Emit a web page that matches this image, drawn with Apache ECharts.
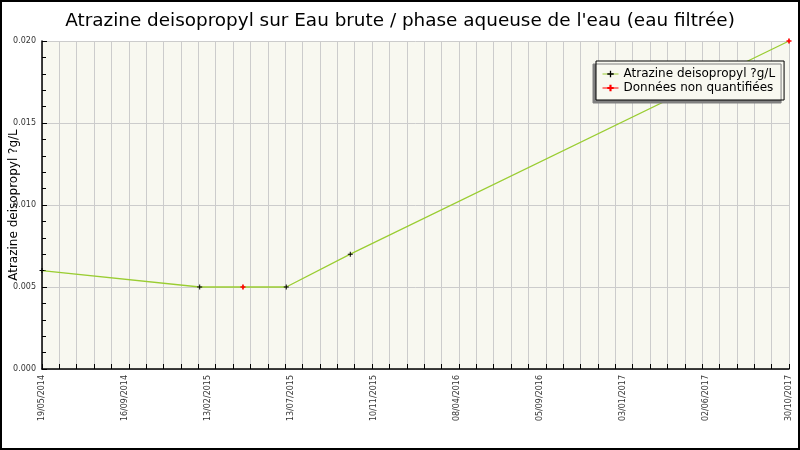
<!DOCTYPE html>
<html>
<head>
<meta charset="utf-8">
<script src="https://cdn.jsdelivr.net/npm/echarts@6/dist/echarts.min.js"></script>
<style>
html,body{margin:0;padding:0;background:#fff;}
#c{width:800px;height:450px;}
</style>
</head>
<body>
<div id="c"></div>
<script>
// ---- data ----
var titleText = "Atrazine deisopropyl sur Eau brute / phase aqueuse de l'eau (eau filtrée)";
var yAxisName = "Atrazine deisopropyl ?g/L";
var seriesMeasured = "Atrazine deisopropyl ?g/L";
var seriesNonQuant = "Données non quantifiées";
var measuredDates = ["19/05/2014", "09/02/2015", "05/07/2015", "21/10/2015"];
var measuredValues = [0.006, 0.005, 0.005, 0.007];
var nqDates = ["23/04/2015", "30/10/2017"];
var nqValues = [0.005, 0.020];
var axisStart = "19/05/2014";
var axisEnd = "30/10/2017";
var xTickLabels = ["19/05/2014", "16/09/2014", "13/02/2015", "13/07/2015", "10/11/2015",
                   "08/04/2016", "05/09/2016", "03/01/2017", "02/06/2017", "30/10/2017"];
var yTicks = [0, 0.005, 0.010, 0.015, 0.020];

// ---- helpers ----
function toDay(s) {
  var p = s.split("/");
  return Date.UTC(+p[2], +p[1] - 1, +p[0]) / 86400000;
}
var d0 = toDay(axisStart);
var span = toDay(axisEnd) - d0;
function dx(s) { return toDay(s) - d0; }

var plusPath = 'path://M2,0H3V2H5V3H3V5H2V3H0V2H2Z';
var plusBold = 'path://M1,0H2V1H3V2H2V3H1V2H0V1H1Z';

// all points in date order for the connecting line
var allPts = [];
measuredDates.forEach(function (d, i) { allPts.push({ x: dx(d), y: measuredValues[i], m: true }); });
nqDates.forEach(function (d, i) { allPts.push({ x: dx(d), y: nqValues[i], m: false }); });
allPts.sort(function (a, b) { return a.x - b.x; });
var mainData = allPts.map(function (p) {
  return p.m ? { value: [p.x, p.y] } : { value: [p.x, p.y], symbol: 'none' };
});
var nqData = nqDates.map(function (d, i) { return [dx(d), nqValues[i]]; });

var labelInterval = span / (xTickLabels.length - 1);
var minorInterval = span / 43;

var chart = echarts.init(document.getElementById('c'), null, { renderer: 'canvas' });
chart.setOption({
  animation: false,
  backgroundColor: '#ffffff',
  textStyle: { fontFamily: 'DejaVu Sans' },
  title: {
    text: titleText,
    left: 'center',
    top: 7,
    textStyle: { fontFamily: 'DejaVu Sans', fontSize: 18.4, fontWeight: 'normal', color: '#000' }
  },
  graphic: [{
    type: 'rect', silent: true, z: 100,
    shape: { x: 1, y: 1, width: 798, height: 448 },
    style: { fill: 'none', stroke: '#000', lineWidth: 2 }
  }],
  grid: {
    left: 42, right: 11, top: 41, bottom: 81,
    containLabel: false, outerBoundsMode: 'none',
    show: true, backgroundColor: '#f8f8f0', borderWidth: 0
  },
  legend: {
    orient: 'vertical',
    left: 596, top: 61,
    padding: [7, 9, 6, 6],
    itemGap: 2,
    itemWidth: 16, itemHeight: 8,
    backgroundColor: '#f8f8f0',
    borderColor: '#000', borderWidth: 1,
    shadowColor: '#808080', shadowBlur: 0, shadowOffsetX: -3, shadowOffsetY: 3,
    textStyle: { fontFamily: 'DejaVu Sans', fontSize: 12, color: '#000' },
    data: [
      { name: seriesMeasured, itemStyle: { color: '#000' }, lineStyle: { color: '#9acd32', width: 1 } },
      { name: seriesNonQuant, itemStyle: { color: '#ff0000' }, lineStyle: { color: '#ff0000', opacity: 1, width: 1 } }
    ]
  },
  xAxis: [{
    type: 'value', min: 0, max: span, interval: minorInterval,
    axisLine: { show: true, lineStyle: { color: '#000', width: 1.5 } },
    axisTick: { show: true, inside: true, length: 5, lineStyle: { color: '#000' } },
    axisLabel: { show: false },
    splitLine: { show: true, lineStyle: { color: '#cccccc', width: 1 } }
  }, {
    type: 'value', min: 0, max: span, interval: labelInterval, position: 'bottom',
    axisLine: { show: false }, axisTick: { show: false },
    splitLine: { show: false },
    axisLabel: {
      show: true, rotate: 90, margin: 6,
      fontFamily: 'DejaVu Sans', fontSize: 8, color: '#333',
      formatter: function (v) {
        var i = Math.round(v / labelInterval);
        return xTickLabels[i] || '';
      }
    }
  }],
  yAxis: {
    type: 'value', min: yTicks[0], max: yTicks[yTicks.length - 1], interval: yTicks[1] - yTicks[0],
    name: yAxisName, nameLocation: 'middle', nameGap: 22, nameMoveOverlap: false,
    nameTextStyle: { fontFamily: 'DejaVu Sans', fontSize: 12, color: '#000' },
    axisLine: { show: true, lineStyle: { color: '#000', width: 1.5 } },
    axisTick: { show: true, inside: true, length: 5, lineStyle: { color: '#000' } },
    minorTick: { show: true, splitNumber: 5, length: 4, lineStyle: { color: '#000' } },
    axisLabel: {
      fontFamily: 'DejaVu Sans', fontSize: 8, color: '#333', margin: 6,
      formatter: function (v) { return v.toFixed(3); }
    },
    splitLine: { show: true, lineStyle: { color: '#cccccc', width: 1 } }
  },
  series: [{
    name: seriesMeasured,
    type: 'line',
    xAxisIndex: 0,
    data: mainData,
    symbol: plusPath, symbolSize: 5,
    itemStyle: { color: '#000' },
    lineStyle: { color: '#9acd32', width: 1.3 },
    z: 3
  }, {
    name: seriesNonQuant,
    type: 'line',
    xAxisIndex: 0,
    data: nqData,
    symbol: plusBold, symbolSize: 5,
    itemStyle: { color: '#ff0000' },
    lineStyle: { color: '#ff0000', opacity: 0, width: 0 },
    z: 4
  }]
});
</script>
</body>
</html>
